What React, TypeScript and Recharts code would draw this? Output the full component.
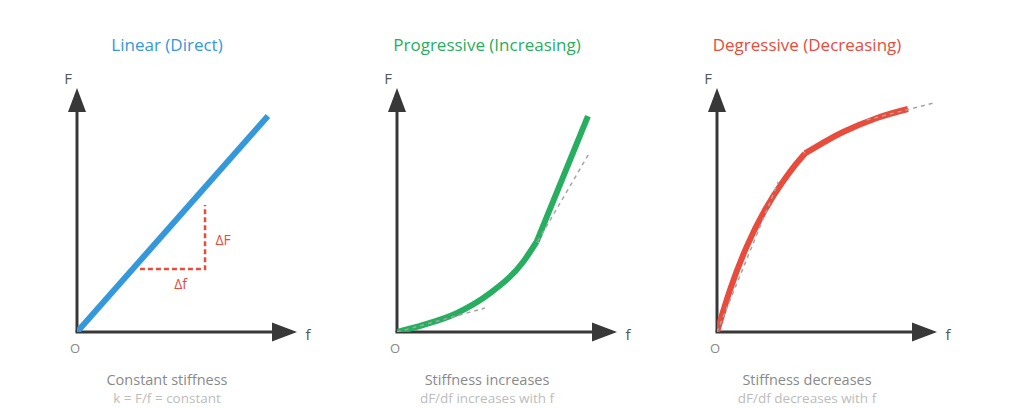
import React from 'react';
import { ComposedChart, Line, XAxis, YAxis, ReferenceLine, ReferenceDot } from 'recharts';

const FONT = '"Open Sans", "Noto Sans", sans-serif';
const AXIS_COLOR = '#383838';
const BLUE = '#3498db';
const GREEN = '#27ae60';
const RED = '#e74c3c';
const DASH_GRAY = '#a5a5a5';

// ---- Data (normalised units, 0..100 on both axes) ----
const linearCurve = [
  { x: 0, y: 0 },
  { x: 86.8, y: 88.5 },
];
const linearDeltaStep = [
  { x: 28.6, y: 25.8 },
  { x: 58.2, y: 25.8 },
  { x: 58.2, y: 52.0 },
];
const linearDeltaLabels = [
  { x: 66.4, y: 37.9, text: 'ΔF' },
  { x: 47.1, y: 19.9, text: 'Δf' },
];

const progressiveCurve = [
  { x: 0, y: 0 },
  { x: 12.0, y: 2.9 },
  { x: 27.1, y: 7.7 },
  { x: 42.3, y: 15.9 },
  { x: 57.4, y: 28.8 },
  { x: 63.5, y: 37.0 },
];
const progressiveUpper = [
  { x: 63.5, y: 37.0 },
  { x: 86.8, y: 88.5 },
];
const progressiveTangentLow = [
  { x: 0, y: 0 },
  { x: 40, y: 9.8 },
];
const progressiveTangentHigh = [
  { x: 64, y: 37.2 },
  { x: 87.7, y: 73.8 },
];

const degressiveCurve = [
  { x: 0, y: 0 },
  { x: 5.9, y: 17.2 },
  { x: 13.5, y: 35.0 },
  { x: 21.8, y: 50.0 },
  { x: 29.4, y: 60.9 },
  { x: 35.5, y: 68.4 },
  { x: 40.0, y: 73.2 },
];
const degressiveUpper = [
  { x: 40.0, y: 73.2 },
  { x: 49.1, y: 78.0 },
  { x: 57.3, y: 82.0 },
  { x: 72.7, y: 87.7 },
  { x: 86.8, y: 91.4 },
];
const degressiveChordLow = [
  { x: 0, y: 0 },
  { x: 27.9, y: 61.6 },
];
const degressiveTangentHigh = [
  { x: 68, y: 86.9 },
  { x: 98.3, y: 93.8 },
];

const titles = ['Linear (Direct)', 'Progressive (Increasing)', 'Degressive (Decreasing)'];
const subtitles = ['Constant stiffness', 'Stiffness increases', 'Stiffness decreases'];
const notes = ['k = F/f = constant', 'dF/df increases with f', 'dF/df decreases with f'];
const colors = [BLUE, GREEN, RED];

const PANEL_W = 320;
const H = 410;
const MARGIN = { top: 88, right: 23, bottom: 78, left: 77 };

const ArrowUp = (props: any) => {
  const { cx, cy } = props;
  return <polygon points={`${cx},${cy} ${cx - 9},${cy + 24} ${cx + 9},${cy + 24}`} fill={AXIS_COLOR} />;
};
const ArrowRight = (props: any) => {
  const { cx, cy } = props;
  return <polygon points={`${cx},${cy} ${cx - 25},${cy - 9.5} ${cx - 25},${cy + 9.5}`} fill={AXIS_COLOR} />;
};
const makeText = (text: string, dx: number, dy: number, color: string, size: number) => (props: any) => (
  <text
    x={props.cx + dx}
    y={props.cy + dy}
    textAnchor="middle"
    dominantBaseline="central"
    fill={color}
    fontSize={size}
    fontFamily={FONT}
  >
    {text}
  </text>
);

function axisElements() {
  return [
    <ReferenceLine key="ax-y" segment={[{ x: 0, y: 0 }, { x: 0, y: 91 }]} stroke={AXIS_COLOR} strokeWidth={3} ifOverflow="visible" />,
    <ReferenceLine key="ax-x" segment={[{ x: 0, y: 0 }, { x: 90, y: 0 }]} stroke={AXIS_COLOR} strokeWidth={3} strokeLinecap="square" ifOverflow="visible" />,
    <ReferenceDot key="ar-y" x={0} y={100} r={0} shape={ArrowUp} ifOverflow="visible" />,
    <ReferenceDot key="ar-x" x={100} y={0} r={0} shape={ArrowRight} ifOverflow="visible" />,
    <ReferenceDot key="lb-F" x={0} y={100} r={0} shape={makeText('F', -9, -10, '#555', 15)} ifOverflow="visible" />,
    <ReferenceDot key="lb-f" x={100} y={0} r={0} shape={makeText('f', 11, 2, '#555', 15)} ifOverflow="visible" />,
    <ReferenceDot key="lb-O" x={0} y={0} r={0} shape={makeText('O', -2, 16, '#888', 13)} ifOverflow="visible" />,
  ];
}

function Panel({ index, series }: { index: number; series: React.ReactNode[] }) {
  return (
    <div style={{ position: 'absolute', left: index * PANEL_W, top: 0, width: PANEL_W, height: H }}>
      <ComposedChart width={PANEL_W} height={H} margin={MARGIN}>
        <XAxis type="number" dataKey="x" domain={[0, 100]} hide allowDataOverflow />
        <YAxis type="number" dataKey="y" domain={[0, 100]} hide allowDataOverflow />
        {axisElements()}
        {series}
      </ComposedChart>
      <div
        style={{
          position: 'absolute', left: 47, width: 240, top: 34, textAlign: 'center',
          fontFamily: FONT, fontSize: 17, lineHeight: '22px', color: colors[index],
        }}
      >
        {titles[index]}
      </div>
      <div
        style={{
          position: 'absolute', left: 47, width: 240, top: 370, textAlign: 'center',
          fontFamily: FONT, fontSize: 14.5, lineHeight: '20px', color: '#8a8a8a',
        }}
      >
        {subtitles[index]}
      </div>
      <div
        style={{
          position: 'absolute', left: 47, width: 240, top: 390, textAlign: 'center',
          fontFamily: FONT, fontSize: 13.5, lineHeight: '16px', color: '#bcbcbc',
        }}
      >
        {notes[index]}
      </div>
    </div>
  );
}

const common = { dataKey: 'y', dot: false, activeDot: false, isAnimationActive: false } as const;

export default function App() {
  const linearSeries = [
    <Line key="lin" {...common} data={linearCurve} type="linear" stroke={BLUE} strokeWidth={6} />,
    <Line key="step" {...common} data={linearDeltaStep} type="linear" stroke={RED} strokeWidth={2.5} strokeDasharray="5 3" />,
    ...linearDeltaLabels.map((d) => (
      <ReferenceDot key={d.text} x={d.x} y={d.y} r={0} shape={makeText(d.text, 0, 0, RED, 14)} />
    )),
  ];
  const progressiveSeries = [
    <Line key="pc" {...common} data={progressiveCurve} type="monotone" stroke={GREEN} strokeWidth={6} />,
    <Line key="pu" {...common} data={progressiveUpper} type="linear" stroke={GREEN} strokeWidth={6} />,
    <Line key="pt1" {...common} data={progressiveTangentLow} type="linear" stroke={DASH_GRAY} strokeWidth={1.5} strokeDasharray="4 4" />,
    <Line key="pt2" {...common} data={progressiveTangentHigh} type="linear" stroke={DASH_GRAY} strokeWidth={1.5} strokeDasharray="4 4" />,
  ];
  const degressiveSeries = [
    <Line key="dc" {...common} data={degressiveCurve} type="natural" stroke={RED} strokeWidth={6} />,
    <Line key="du" {...common} data={degressiveUpper} type="natural" stroke={RED} strokeWidth={6} />,
    <Line key="dt1" {...common} data={degressiveChordLow} type="linear" stroke={DASH_GRAY} strokeWidth={1.5} strokeDasharray="4 4" />,
    <Line key="dt2" {...common} data={degressiveTangentHigh} type="linear" stroke={DASH_GRAY} strokeWidth={1.5} strokeDasharray="4 4" />,
  ];
  return (
    <div style={{ position: 'absolute', left: 0, top: 0, width: 1024, height: 410, background: '#fff', overflow: 'hidden' }}>
      <Panel index={0} series={linearSeries} />
      <Panel index={1} series={progressiveSeries} />
      <Panel index={2} series={degressiveSeries} />
    </div>
  );
}
